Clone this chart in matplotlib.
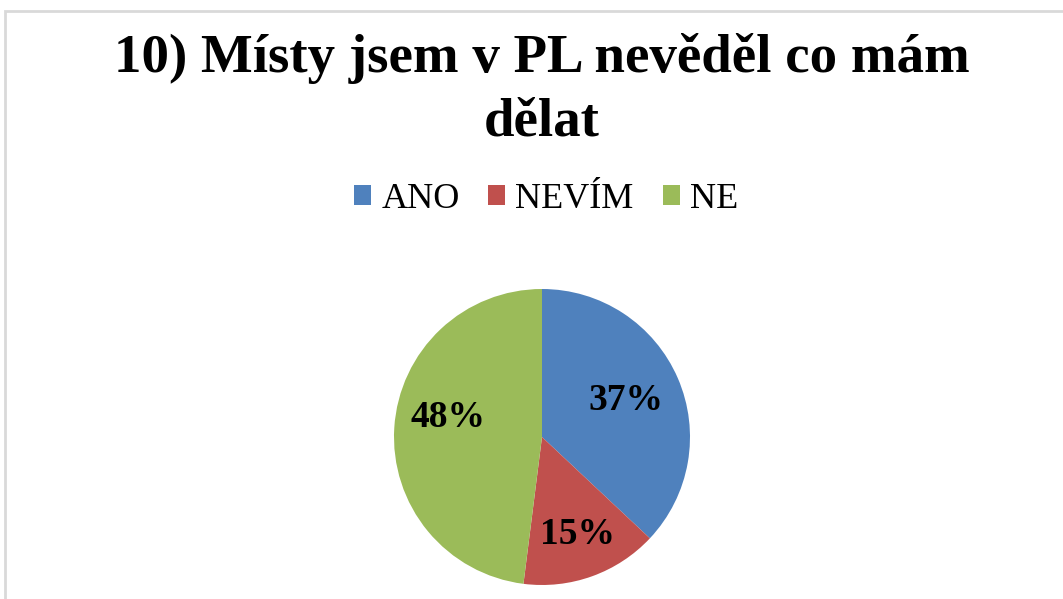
import numpy as np
import matplotlib.pyplot as plt
from matplotlib.patches import Patch, Rectangle

labels = ['ANO', 'NEVÍM', 'NE']
values = [37, 15, 48]
colors = ['#4F81BD', '#C0504D', '#9BBB59']
title = '10) Místy jsem v PL nevěděl co mám\ndělat'

plt.rcParams['font.family'] = ['Liberation Serif', 'DejaVu Serif']

W, H = 1063, 599
fig = plt.figure(figsize=(W / 100, H / 100), dpi=100)

# light grey chart border, cut off on the right and bottom
fig.patches.append(Rectangle((5 / W, -0.1), 1.2, (H - 11) / H + 0.1,
                             transform=fig.transFigure, fill=False,
                             edgecolor='#D9D9D9', linewidth=2))

fig.text(542 / W, 1 - 135 / H, title, ha='center', va='baseline',
         fontsize=39.5, fontweight='bold', linespacing=1.35)

# pie: centre (542, 437) px, radius 148 px
r = 148
ax = fig.add_axes([(542 - r) / W, (H - 437 - r) / H, 2 * r / W, 2 * r / H])
wedges, texts, autotexts = ax.pie(values, colors=colors, startangle=90,
                                  counterclock=False, autopct=lambda p: f'{p:.0f}%',
                                  wedgeprops=dict(linewidth=0))
# excel-like label placement inside each wedge
label_dist = [0.62, 0.70, 0.65]
label_shift = [0, 0, -8]  # degrees
for w, t, d, s in zip(wedges, autotexts, label_dist, label_shift):
    ang = np.deg2rad((w.theta1 + w.theta2) / 2 + s)
    t.set_position((d * np.cos(ang), d * np.sin(ang)))
    t.set_fontsize(27)
    t.set_fontweight('bold')
ax.set_xlim(-1, 1)
ax.set_ylim(-1, 1)
ax.set_aspect('equal')

handles = [Patch(facecolor=c, edgecolor='none') for c in colors]
fig.legend(handles, labels, loc='center', bbox_to_anchor=(546 / W, 1 - 199 / H),
           ncol=3, frameon=False, fontsize=26, handlelength=0.47, handleheight=0.47,
           handletextpad=0.28, columnspacing=0.8, borderpad=0, borderaxespad=0)

fig.savefig('out.png', dpi=100)
